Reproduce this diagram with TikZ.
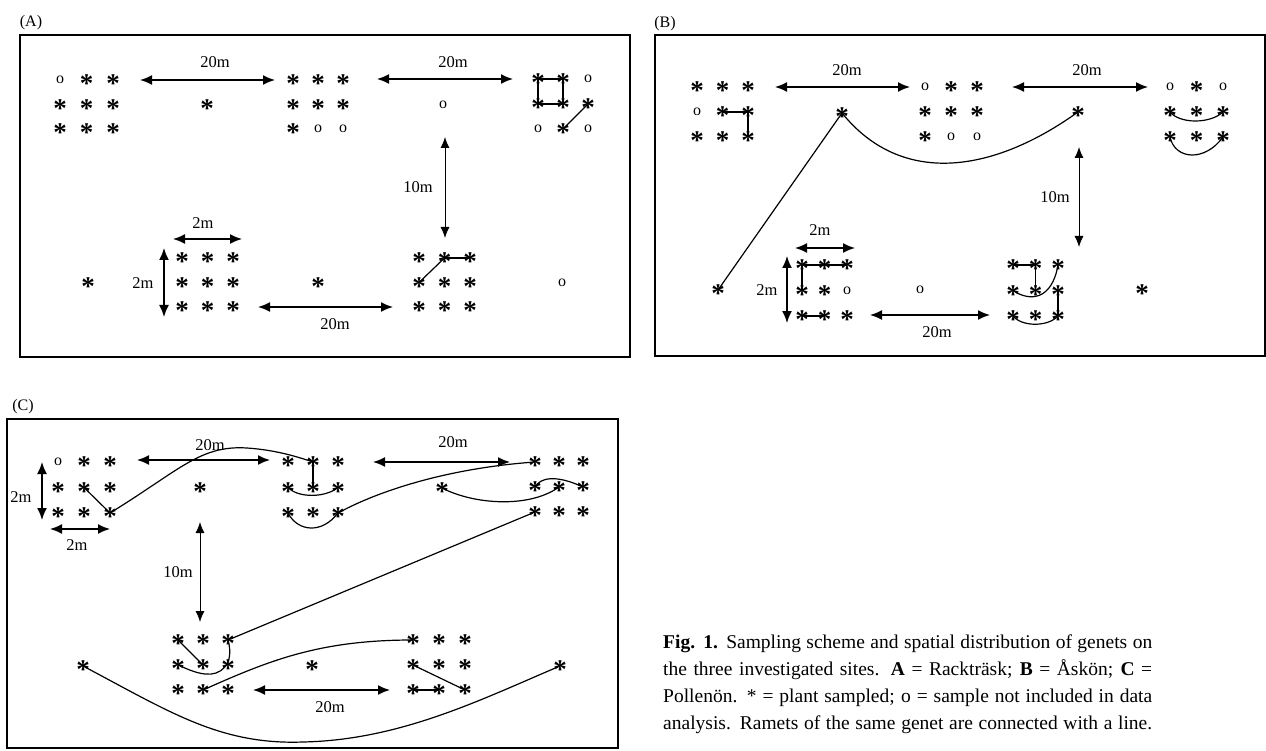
\documentclass[tikz,border=0pt]{standalone}
\usepackage{fontspec}
\setmainfont{Liberation Serif}
\usetikzlibrary{arrows.meta}
\newcommand\grid[6]{%
  \foreach \t [count=\i from 0] in {#6}{%
    \pgfmathtruncatemacro\rr{div(\i,3)+1}%
    \pgfmathtruncatemacro\cc{mod(\i,3)+1}%
    \node[name=#1\rr\cc, at={({#2+(\cc-1)*#4},{#3+(\rr-1)*#5})}, \t];%
  }}
\begin{document}
\begin{tikzpicture}[x=1pt,y=-1pt,
  pl/.style={inner sep=0pt, font=\fontsize{27}{27}\selectfont\bfseries, node contents={\smash{\raisebox{-0.47em}{*}}}},
  ns/.style={inner sep=0pt, font=\fontsize{16}{16}\selectfont, node contents={\smash{\raisebox{-0.23em}{o}}}},
  dim/.style={line width=1.6pt, arrows={Latex[length=12pt,width=10pt]-Latex[length=12pt,width=10pt]}},
  dimthin/.style={line width=0.9pt, arrows={Latex[length=11pt,width=9pt]-Latex[length=11pt,width=9pt]}},
  link/.style={line width=1.2pt},
  lab/.style={font=\fontsize{16.5}{16.5}\selectfont, inner sep=0pt},
  panel/.style={line width=1.3pt},
  plabel/.style={font=\fontsize{16}{16}\selectfont, inner sep=0pt},
  capline/.style={font=\fontsize{19.5}{19.5}\selectfont, inner sep=0pt, anchor=base west}
]
\useasboundingbox (0,0) rectangle (1266,751);

% ---------------- panel boxes and labels
\draw[panel] (20,35) rectangle (630,357);
\draw[panel] (655,35) rectangle (1265,356);
\draw[panel] (7,419) rectangle (618,748);
\node[plabel] (labA) at (31,23) {(A)};
\node[plabel] (labB) at (665,24) {(B)};
\node[plabel] (labC) at (23,407) {(C)};

% ---------------- Panel A
\grid{A1}{60}{80}{26.5}{24.5}{ns,pl,pl,pl,pl,pl,pl,pl,pl}
\grid{A2}{293}{80}{25}{24.5}{pl,pl,pl,pl,pl,pl,pl,ns,ns}
\grid{A3}{538}{79}{25}{25}{pl,pl,ns,pl,pl,pl,ns,pl,ns}
\grid{A4}{182}{258}{25.5}{24.5}{pl,pl,pl,pl,pl,pl,pl,pl,pl}
\grid{A5}{419}{258}{25.5}{24.5}{pl,pl,pl,pl,pl,pl,pl,pl,pl}
\node[name=Aa, at={(207,105)}, pl];
\node[name=Ab, at={(443,105)}, ns];
\node[name=Ac, at={(88,283)}, pl];
\node[name=Ad, at={(318,283)}, pl];
\node[name=Ae, at={(562,283)}, ns];

\coordinate (dA1l) at (140,80);  \coordinate (dA1r) at (275,80);
\coordinate (dA2l) at (377,79);  \coordinate (dA2r) at (513,79);
\coordinate (dA3t) at (445,137); \coordinate (dA3b) at (445,238);
\coordinate (dA4l) at (173,239); \coordinate (dA4r) at (242,239);
\coordinate (dA5t) at (164,248); \coordinate (dA5b) at (164,317);
\coordinate (dA6l) at (258,307); \coordinate (dA6r) at (393,307);
\draw[dim] (dA1l) -- (dA1r);
\draw[dim] (dA2l) -- (dA2r);
\draw[dimthin] (dA3t) -- (dA3b);
\draw[dim] (dA4l) -- (dA4r);
\draw[dim] (dA5t) -- (dA5b);
\draw[dim] (dA6l) -- (dA6r);
\node[lab] (tA1) at (215,62) {20m};
\node[lab] (tA2) at (453,62) {20m};
\node[lab] (tA3) at (418,187) {10m};
\node[lab] (tA4) at (203,223) {2m};
\node[lab] (tA5) at (143,283) {2m};
\node[lab] (tA6) at (335,324) {20m};

\draw[link] (A311.center) -- (A312.center) -- (A322.center) -- (A321.center) -- cycle;
\draw[link] (A323.center) -- (A332.center);
\draw[link] (A512.center) -- (A513.center);
\draw[link] (A512.center) -- (A521.center);

% ---------------- Panel B
\grid{B1}{697}{87}{25.5}{25}{pl,pl,pl,ns,pl,pl,pl,pl,pl}
\grid{B2}{925}{87}{26}{25}{ns,pl,pl,pl,pl,pl,pl,ns,ns}
\grid{B3}{1170}{87}{26.5}{25}{ns,pl,ns,pl,pl,pl,pl,pl,pl}
\grid{B4}{802}{265}{22.5}{25.5}{pl,pl,pl,pl,pl,ns,pl,pl,pl}
\grid{B5}{1013}{265}{22.5}{25.5}{pl,pl,pl,pl,pl,pl,pl,pl,pl}
\node[name=Ba, at={(842,113)}, pl];
\node[name=Bb, at={(1078,112)}, pl];
\node[name=Bc, at={(718,290)}, pl];
\node[name=Bd, at={(920,290)}, ns];
\node[name=Be, at={(1142,290)}, pl];

\coordinate (dB1l) at (775,87);   \coordinate (dB1r) at (910,87);
\coordinate (dB2l) at (1012,87);  \coordinate (dB2r) at (1148,87);
\coordinate (dB3t) at (1079,147); \coordinate (dB3b) at (1079,247);
\coordinate (dB4l) at (795,248);  \coordinate (dB4r) at (855,248);
\coordinate (dB5t) at (787,256);  \coordinate (dB5b) at (787,323);
\coordinate (dB6l) at (870,315);  \coordinate (dB6r) at (990,315);
\draw[dim] (dB1l) -- (dB1r);
\draw[dim] (dB2l) -- (dB2r);
\draw[dimthin] (dB3t) -- (dB3b);
\draw[dim] (dB4l) -- (dB4r);
\draw[dim] (dB5t) -- (dB5b);
\draw[dim] (dB6l) -- (dB6r);
\node[lab] (tB1) at (847,70) {20m};
\node[lab] (tB2) at (1087,70) {20m};
\node[lab] (tB3) at (1055,197) {10m};
\node[lab] (tB4) at (820,230) {2m};
\node[lab] (tB5) at (767,290) {2m};
\node[lab] (tB6) at (937,332) {20m};

\draw[link] (B122.center) -- (B123.center) -- (B133.center);
\draw[link] (Ba.center) -- (Bc.center);
\draw[link] (Ba.center) .. controls (900,185) and (990,175) .. (Bb.center);
\draw[link] (B321.center) .. controls (1180,124) and (1210,124) .. (B323.center);
\draw[link] (B331.center) .. controls (1175,160) and (1205,162) .. (B333.center);
\draw[link] (B411.center) -- (B413.center);
\draw[link] (B411.center) -- (B421.center);
\draw[link] (B431.center) -- (B432.center);
\draw[link] (B511.center) -- (B512.center) -- (B522.center);
\draw[link] (B521.center) .. controls (1030,302) and (1052,300) .. (B513.center);
\draw[link] (B523.center) -- (B533.center);
\draw[link] (B531.center) .. controls (1022,327) and (1048,327) .. (B533.center);

% ---------------- Panel C
\grid{C1}{58}{462}{26}{25.5}{ns,pl,pl,pl,pl,pl,pl,pl,pl}
\grid{C2}{288}{462}{25}{25.5}{pl,pl,pl,pl,pl,pl,pl,pl,pl}
\grid{C3}{535}{462}{24}{25}{pl,pl,pl,pl,pl,pl,pl,pl,pl}
\grid{C4}{178}{640}{25}{25}{pl,pl,pl,pl,pl,pl,pl,pl,pl}
\grid{C5}{413}{640}{26}{25}{pl,pl,pl,pl,pl,pl,pl,pl,pl}
\node[name=Ca, at={(200,488)}, pl];
\node[name=Cb, at={(442,488)}, pl];
\node[name=Cc, at={(83,666)}, pl];
\node[name=Cd, at={(312,666)}, pl];
\node[name=Ce, at={(560,666)}, pl];

\coordinate (dC1l) at (137,460); \coordinate (dC1r) at (270,460);
\coordinate (dC2l) at (373,462); \coordinate (dC2r) at (510,462);
\coordinate (dC3t) at (42,462);  \coordinate (dC3b) at (42,520);
\coordinate (dC4l) at (50,529);  \coordinate (dC4r) at (110,529);
\coordinate (dC5t) at (200,522); \coordinate (dC5b) at (200,622);
\coordinate (dC6l) at (253,690); \coordinate (dC6r) at (390,690);
\draw[dim] (dC1l) -- (dC1r);
\draw[dim] (dC2l) -- (dC2r);
\draw[dim] (dC3t) -- (dC3b);
\draw[dim] (dC4l) -- (dC4r);
\draw[dimthin] (dC5t) -- (dC5b);
\draw[dim] (dC6l) -- (dC6r);
\node[lab] (tC1) at (210,445) {20m};
\node[lab] (tC2) at (453,442) {20m};
\node[lab] (tC3) at (21,497) {2m};
\node[lab] (tC4) at (77,545) {2m};
\node[lab] (tC5) at (178,572) {10m};
\node[lab] (tC6) at (330,707) {20m};

\draw[link] (C122.center) -- (C133.center);
\draw[link] (C133.center) .. controls (180,470) and (200,445) .. (247,448) .. controls (275,450) and (295,456) .. (C212.center);
\draw[link] (C212.center) -- (C222.center);
\draw[link] (C221.center) .. controls (298,498) and (325,498) .. (C223.center);
\draw[link] (C231.center) .. controls (298,532) and (322,534) .. (C233.center) .. controls (380,490) and (450,468) .. (C311.center);
\draw[link] (Cb.center) .. controls (475,505) and (530,508) .. (C322.center);
\draw[link] (C321.center) .. controls (540,478) and (555,474) .. (C323.center);
\draw[link] (C331.center) -- (C413.center);
\draw[link] (C411.center) -- (C422.center);
\draw[link] (C413.center) .. controls (235,665) and (220,676) .. (205,674) .. controls (195,673) and (185,668) .. (C421.center);
\draw[link] (C432.center) .. controls (270,660) and (320,640) .. (C511.center);
\draw[link] (C521.center) -- (C533.center);
\draw[link] (C531.center) -- (C532.center);
\draw[link] (Cc.center) .. controls (170,712) and (220,745) .. (303,742) .. controls (400,740) and (480,700) .. (Ce.center);

% ---------------- caption
\node[capline] (cap1) at (663,648) {\makebox[489pt][s]{\textbf{Fig. 1.} Sampling scheme and spatial distribution of genets on}};
\node[capline] (cap2) at (663,675) {\makebox[489pt][s]{the three investigated sites. \textbf{A} = Rackträsk; \textbf{B} = Åskön; \textbf{C} =}};
\node[capline] (cap3) at (663,702) {\makebox[489pt][s]{Pollenön. * = plant sampled; o = sample not included in data}};
\node[capline] (cap4) at (663,729) {\makebox[489pt][s]{analysis. Ramets of the same genet are connected with a line.}};
\end{tikzpicture}
\end{document}
